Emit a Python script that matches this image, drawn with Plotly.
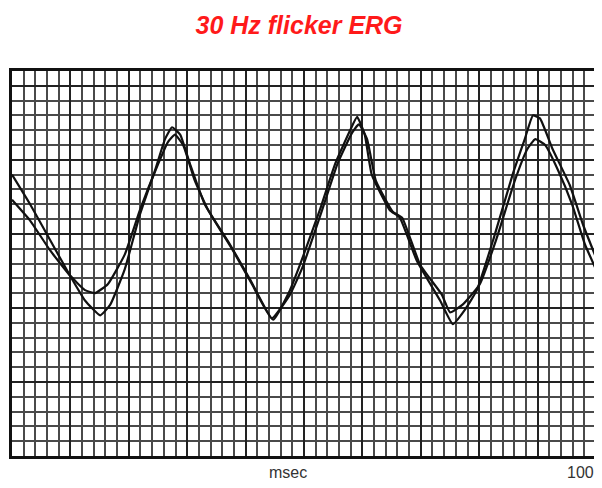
import plotly.graph_objects as go

# Time (msec) and amplitude (grid divisions) for the two superimposed ERG traces
t1 = [0, 3.1, 6.5, 9.9, 12.5, 15.1, 16.8, 19.3, 21.9, 24.5, 26.2, 27.4, 28.8, 30.5, 33.0, 37.3, 40.8,
      44.7, 47.6, 49.3, 52.7, 55.3, 57.9, 59.1, 60.4, 61.6, 64.7, 66.4, 69.3, 73.3, 75.5, 77.6, 79.6,
      82.4, 85.8, 87.8, 89.2, 90.4, 92.6, 95.5, 97.8, 100]
v1 = [19.0, 17.0, 14.6, 12.2, 10.5, 9.5, 10.2, 12.6, 16.3, 19.3, 21.4, 22.2, 21.7, 19.7, 17.0, 14.3, 11.9,
      9.2, 11.2, 12.9, 16.6, 19.7, 22.0, 22.9, 21.7, 19.0, 16.6, 16.1, 13.2, 10.5, 8.9, 9.9, 11.2,
      14.6, 19.1, 21.4, 23.0, 22.8, 20.7, 18.3, 15.6, 13.4]

t2 = [0, 3.1, 6.5, 9.9, 12.5, 14.2, 16.4, 19.3, 21.9, 25.0, 26.7, 27.9, 29.3, 31.3, 33.6, 37.8, 41.1,
      44.5, 47.6, 49.7, 53.1, 55.7, 58.2, 59.4, 60.8, 62.3, 65.2, 66.8, 69.9, 73.6, 75.0, 77.1, 80.1,
      82.9, 86.1, 88.2, 89.6, 91.3, 93.5, 95.9, 98.1, 100]
v2 = [17.3, 15.9, 13.9, 12.2, 11.2, 11.0, 11.6, 13.6, 16.6, 19.7, 21.2, 21.7, 21.0, 18.6, 16.6, 13.9, 11.6,
      9.3, 10.9, 12.7, 16.6, 19.7, 21.8, 22.4, 21.4, 18.6, 16.5, 16.1, 12.9, 10.9, 9.7, 10.2, 11.6,
      14.6, 18.6, 20.7, 21.4, 21.0, 19.3, 17.0, 14.3, 12.6]

title_text = "30 Hz flicker ERG"
x_label = "msec"
x_end_label = "100"

fig = go.Figure()
for t, v in [(t1, v1), (t2, v2)]:
    fig.add_trace(go.Scatter(x=t, y=v, mode="lines",
                             line=dict(color="#111111", width=2.2, shape="spline", smoothing=0.4),
                             showlegend=False, hoverinfo="skip"))

axis_common = dict(showticklabels=False, ticks="", zeroline=False, showline=True,
                   linecolor="#111111", linewidth=2.5, mirror=True,
                   showgrid=True, gridcolor="#222222", gridwidth=2.4)

fig.update_xaxes(range=[0, 100], dtick=10, **axis_common,
                 minor=dict(dtick=2, showgrid=True, gridcolor="#4a4a4a", gridwidth=1.8))
fig.update_yaxes(range=[0, 26], dtick=5, **axis_common,
                 minor=dict(dtick=1, showgrid=True, gridcolor="#4a4a4a", gridwidth=1.8))

# The page body adds an 8px offset, so the figure is sized to fit the 602x488 window.
fig.update_layout(
    width=594, height=480,
    margin=dict(l=4, r=6, t=63, b=32),
    paper_bgcolor="white", plot_bgcolor="white",
    title=dict(text="<b><i>" + title_text + "</i></b>", x=0.49, xanchor="center",
               y=0.965, yanchor="middle",
               font=dict(family="Liberation Sans, Arial", size=25, color="#ff1a1a")),
    annotations=[
        dict(text=x_label, xref="paper", yref="paper", x=0.473, y=-0.044, showarrow=False,
             xanchor="center", yanchor="middle",
             font=dict(family="Liberation Sans, Arial", size=16, color="#333333")),
        dict(text=x_end_label, xref="paper", yref="paper", x=0.973, y=-0.044, showarrow=False,
             xanchor="center", yanchor="middle",
             font=dict(family="Liberation Sans, Arial", size=16, color="#333333")),
    ],
)

fig.write_html("out.html")
